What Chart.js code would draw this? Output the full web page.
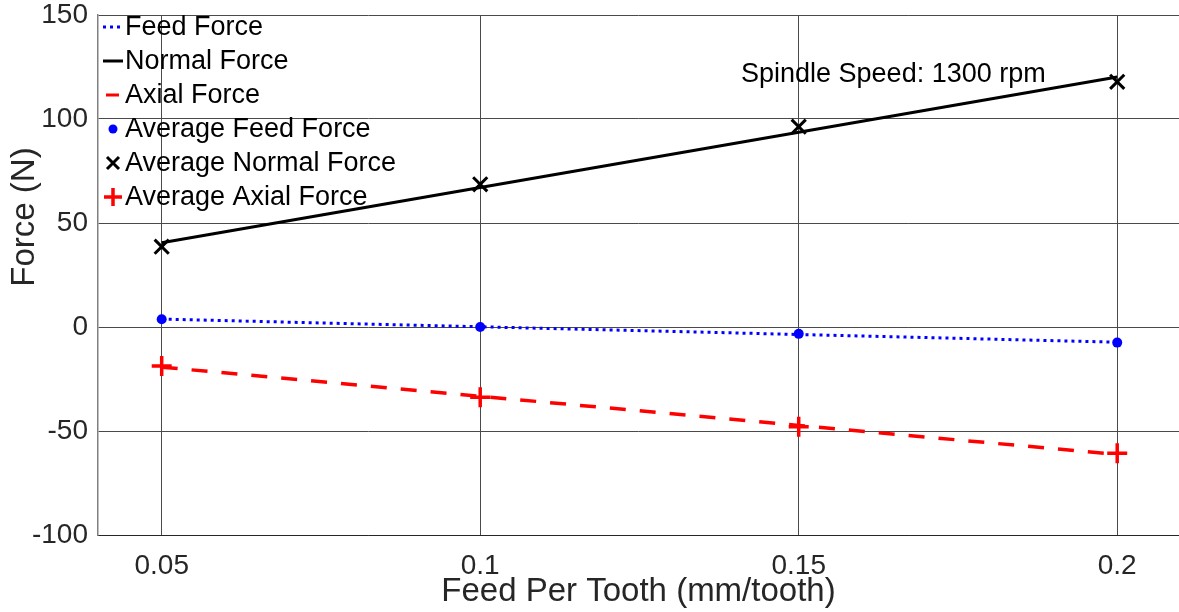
<!DOCTYPE html>
<html lang="en">
<head>
  <meta charset="UTF-8">
  <title>Force vs Feed Per Tooth</title>
  <script src="https://cdn.jsdelivr.net/npm/chart.js"></script>
  <style>
    body {
      margin: 0;
      background: white;
      overflow: hidden;
    }
    .container {
      width: 1179px;
      height: 612px;
      position: relative;
    }
  </style>
</head>
<body>
  <div class="container">
    <canvas id="forceChart"></canvas>
  </div>

  <script>
    // feed per tooth (mm/tooth)
    const feedPerTooth = [0.05, 0.1, 0.15, 0.2];

    // measured averages (N)
    const feedAvg = [3.7, 0, -3.3, -7.5];
    const normalAvg = [38.6, 68.6, 96.3, 117.9];
    const axialAvg = [-18.8, -33.8, -47.9, -60.7];

    // linear fits through the averages (N)
    const feedFit = [3.8, 0.1, -3.6, -7.3];
    const normalFit = [40.5, 67.1, 93.6, 120.2];
    const axialFit = [-19.3, -33.3, -47.3, -61.3];

    const xTicks = [0.05, 0.1, 0.15, 0.2];
    const yTicks = [-100, -50, 0, 50, 100, 150];

    const FONT = "'Liberation Sans', Arial, sans-serif";

    function pts(values) {
      return values.map((v, i) => ({ x: feedPerTooth[i], y: v }));
    }

    // keep the plot box fixed: no extra room for overhanging tick labels
    function noScalePadding(scale) {
      scale.paddingTop = 0;
      scale.paddingBottom = 0;
      scale.paddingLeft = 0;
      scale.paddingRight = 0;
    }

    // legend drawn inside the plot, top-left, no box
    const legendItems = [
      { label: 'Feed Force', kind: 'line', color: '#0000ff', dash: [3, 4], width: 3 },
      { label: 'Normal Force', kind: 'line', color: '#000000', dash: [], width: 3 },
      { label: 'Axial Force', kind: 'line', color: '#ff0000', dash: [], width: 3, short: true },
      { label: 'Average Feed Force', kind: 'dot', color: '#0000ff' },
      { label: 'Average Normal Force', kind: 'x', color: '#000000' },
      { label: 'Average Axial Force', kind: 'plus', color: '#ff0000' }
    ];

    const overlayPlugin = {
      id: 'overlay',
      afterDraw(chart) {
        const ctx = chart.ctx;
        ctx.save();

        // legend
        ctx.font = '27px ' + FONT;
        ctx.textBaseline = 'middle';
        ctx.textAlign = 'left';
        legendItems.forEach((item, i) => {
          const y = 27 + i * 34;
          ctx.strokeStyle = item.color;
          ctx.fillStyle = item.color;
          ctx.setLineDash([]);
          if (item.kind === 'line') {
            ctx.lineWidth = item.width;
            ctx.setLineDash(item.dash);
            ctx.beginPath();
            ctx.moveTo(item.short ? 106 : 103, y);
            ctx.lineTo(item.short ? 119 : 123, y);
            ctx.stroke();
            ctx.setLineDash([]);
          } else if (item.kind === 'dot') {
            ctx.beginPath();
            ctx.arc(113, y, 4.5, 0, Math.PI * 2);
            ctx.fill();
          } else if (item.kind === 'x') {
            ctx.lineWidth = 3;
            ctx.beginPath();
            ctx.moveTo(107, y - 6); ctx.lineTo(119, y + 6);
            ctx.moveTo(119, y - 6); ctx.lineTo(107, y + 6);
            ctx.stroke();
          } else if (item.kind === 'plus') {
            ctx.lineWidth = 3.5;
            ctx.beginPath();
            ctx.moveTo(104, y); ctx.lineTo(122, y);
            ctx.moveTo(113, y - 9); ctx.lineTo(113, y + 9);
            ctx.stroke();
          }
          ctx.fillStyle = '#000000';
          ctx.fillText(item.label, 125, y + 1);
        });

        // annotation
        ctx.font = '27px ' + FONT;
        ctx.fillStyle = '#000000';
        ctx.fillText('Spindle Speed: 1300 rpm', 741, 75);

        // y axis title
        ctx.translate(25, 217);
        ctx.rotate(-Math.PI / 2);
        ctx.textAlign = 'center';
        ctx.font = '33px ' + FONT;
        ctx.fillStyle = '#262626';
        ctx.fillText('Force (N)', 0, 0);

        ctx.restore();
      }
    };

    const ctx = document.getElementById('forceChart').getContext('2d');
    const forceChart = new Chart(ctx, {
      type: 'scatter',
      data: {
        datasets: [
          {
            label: 'Feed Force',
            data: pts(feedFit),
            showLine: true,
            borderColor: '#0000ff',
            borderWidth: 3,
            borderDash: [3, 4],
            pointRadius: 0,
            order: 3
          },
          {
            label: 'Normal Force',
            data: pts(normalFit),
            showLine: true,
            borderColor: '#000000',
            borderWidth: 3,
            pointRadius: 0,
            order: 3
          },
          {
            label: 'Axial Force',
            data: pts(axialFit),
            showLine: true,
            borderColor: '#ff0000',
            borderWidth: 3.5,
            borderDash: [16, 14],
            pointRadius: 0,
            order: 3
          },
          {
            label: 'Average Feed Force',
            data: pts(feedAvg),
            pointStyle: 'circle',
            pointRadius: 5,
            backgroundColor: '#0000ff',
            borderColor: '#0000ff',
            borderWidth: 0,
            order: 1
          },
          {
            label: 'Average Normal Force',
            data: pts(normalAvg),
            pointStyle: 'crossRot',
            pointRadius: 10,
            borderColor: '#000000',
            borderWidth: 3,
            order: 1
          },
          {
            label: 'Average Axial Force',
            data: pts(axialAvg),
            pointStyle: 'cross',
            pointRadius: 10,
            borderColor: '#ff0000',
            borderWidth: 3.5,
            order: 1
          }
        ]
      },
      options: {
        responsive: true,
        maintainAspectRatio: false,
        animation: false,
        layout: {
          autoPadding: false,
          padding: { top: 15, right: 0, left: 0, bottom: 0 }
        },
        plugins: {
          legend: { display: false },
          tooltip: { enabled: false }
        },
        scales: {
          x: {
            type: 'linear',
            min: 0.04,
            max: 0.2097,
            afterFit(scale) { scale.height = 77; noScalePadding(scale); },
            afterBuildTicks(scale) { scale.ticks = xTicks.map(v => ({ value: v })); },
            grid: { color: '#4a4a4a', lineWidth: 1, drawTicks: false },
            border: { color: '#262626', width: 1 },
            ticks: {
              padding: 14,
              color: '#262626',
              font: { family: FONT, size: 28 },
              callback: v => String(v)
            },
            title: {
              display: true,
              text: 'Feed Per Tooth (mm/tooth)',
              color: '#262626',
              font: { family: FONT, size: 33 },
              padding: { top: 0, bottom: 0 }
            }
          },
          y: {
            min: -100,
            max: 150,
            afterFit(scale) { scale.width = 98; noScalePadding(scale); },
            afterBuildTicks(scale) { scale.ticks = yTicks.map(v => ({ value: v })); },
            grid: { color: '#4a4a4a', lineWidth: 1, drawTicks: false },
            border: { color: '#808080', width: 1.5 },
            ticks: {
              padding: 10,
              color: '#262626',
              font: { family: FONT, size: 28 }
            }
          }
        }
      },
      plugins: [overlayPlugin]
    });
  </script>
</body>
</html>
